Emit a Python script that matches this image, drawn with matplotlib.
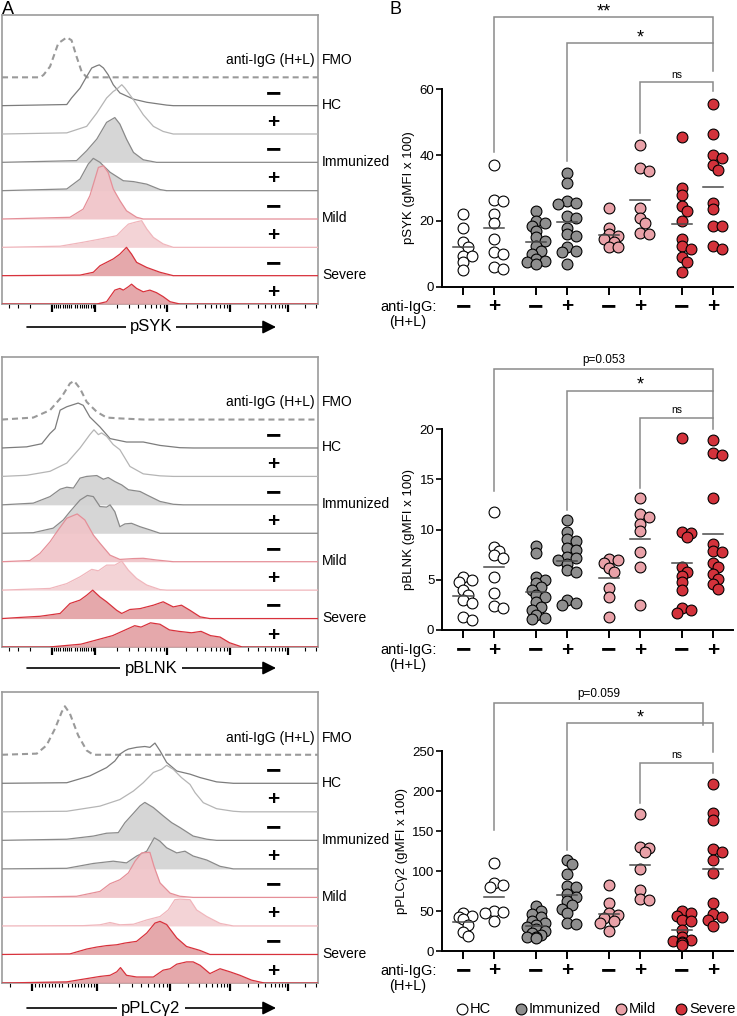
import numpy as np
import matplotlib
matplotlib.use("Agg")
import matplotlib.pyplot as plt

plt.rcParams["font.family"] = ["Liberation Sans", "DejaVu Sans"]

W, H, DPI = 737, 1016, 100
PT = 72 / DPI  # points per pixel

# ---------------------------------------------------------------- panel B
# gMFI x 100, order of columns: HC -, HC +, Imm -, Imm +, Mild -, Mild +, Sev -, Sev +
groups = ["HC", "Immunized", "Mild", "Severe"]
group_colors = ["white", "#8e8e8e", "#e9a1a8", "#d3323b"]

psyk_hc_neg = [22, 18, 13.5, 12, 9.5, 9.5, 7.5, 5]
psyk_hc_pos = [37, 26.5, 26, 22, 19.5, 14.5, 10.5, 10, 6, 5.5]
psyk_imm_neg = [23, 20, 19.5, 18.5, 17, 15, 14, 12.5, 11, 10, 8.5, 8, 7.5, 7]
psyk_imm_pos = [34.5, 31.5, 26, 25.5, 25, 21.5, 21, 18, 16, 15.5, 12, 11, 10.5, 7]
psyk_mild_neg = [24, 18, 16, 15.5, 14.5, 13.5, 12, 12]
psyk_mild_pos = [43, 36, 35, 24, 21, 19.5, 16.5, 16]
psyk_sev_neg = [45.5, 30, 28, 24.5, 23, 20, 14.5, 12.5, 11.5, 9, 7.5, 4.5]
psyk_sev_pos = [55.5, 46.5, 40, 39, 37, 35.5, 25.5, 23.5, 18.5, 18.5, 12.5, 11.5]

pblnk_hc_neg = [5.3, 5, 4.8, 4, 3.5, 3, 2.7, 1.3, 1]
pblnk_hc_pos = [11.7, 8.3, 7.9, 7.5, 7.2, 5.3, 3.7, 2.4, 2.2]
pblnk_imm_neg = [8.4, 7.7, 5.3, 5.0, 4.7, 4.3, 4.0, 3.5, 3.3, 2.8, 2.3, 2.0, 1.5, 1.2, 1.1]
pblnk_imm_pos = [10.9, 9.8, 9.1, 8.9, 8.2, 8.0, 7.3, 7.2, 7.0, 6.6, 6.0, 5.8, 3.0, 2.7, 2.5]
pblnk_mild_neg = [7.1, 7.0, 6.7, 6.2, 5.8, 4.2, 3.3, 1.3]
pblnk_mild_pos = [13.1, 11.5, 11.2, 10.5, 9.9, 7.8, 6.3, 2.5]
pblnk_sev_neg = [19.1, 9.8, 9.7, 9.3, 6.3, 5.8, 5.4, 4.8, 4.0, 2.2, 2.0, 1.7]
pblnk_sev_pos = [18.9, 17.6, 17.4, 13.1, 8.6, 7.9, 7.8, 6.7, 6.3, 5.6, 5.1, 4.6, 4.1]

pplc_hc_neg = [48, 44, 42, 40, 33, 24, 19]
pplc_hc_pos = [110, 85, 83, 80, 50, 49, 48, 38]
pplc_imm_neg = [56, 50, 46, 42, 38, 35, 32, 30, 28, 25, 22, 20, 18, 17, 16]
pplc_imm_pos = [114, 109, 96, 81, 80, 71, 68, 62, 57, 53, 47, 35, 34]
pplc_mild_neg = [82, 60, 47, 45, 41, 37, 35, 25]
pplc_mild_pos = [171, 130, 129, 124, 102, 76, 65, 64]
pplc_sev_neg = [50, 48, 44, 39, 37, 26, 17, 14, 13, 11, 10, 7.5]
pplc_sev_pos = [209, 172, 164, 128, 124, 114, 97, 60, 46, 42, 39, 31]

psyk_cols = [psyk_hc_neg, psyk_hc_pos, psyk_imm_neg, psyk_imm_pos,
             psyk_mild_neg, psyk_mild_pos, psyk_sev_neg, psyk_sev_pos]
pblnk_cols = [pblnk_hc_neg, pblnk_hc_pos, pblnk_imm_neg, pblnk_imm_pos,
              pblnk_mild_neg, pblnk_mild_pos, pblnk_sev_neg, pblnk_sev_pos]
pplc_cols = [pplc_hc_neg, pplc_hc_pos, pplc_imm_neg, pplc_imm_pos,
             pplc_mild_neg, pplc_mild_pos, pplc_sev_neg, pplc_sev_pos]

# comparisons: (column a, column b, label)
comparisons_syk = [(1, 7, "**"), (3, 7, "*"), (5, 7, "ns")]
comparisons_blnk = [(1, 7, "p=0.053"), (3, 7, "*"), (5, 7, "ns")]
comparisons_plc = [(1, 7, "p=0.059"), (3, 7, "*"), (5, 7, "ns")]

# ---------------------------------------------------------------- panel A
# offset histograms, (axis position 0-100, height in rows)
# rows: FMO, HC -, HC +, Imm -, Imm +, Mild -, Mild +, Sev -, Sev +
syk_fmo = [(12, 0), (13.1, 0.08), (15.2, 0.38), (17.8, 1.2), (20.5, 1.41), (22, 1.31),
           (23.6, 0.73), (25.2, 0.2), (26.8, 0)]
syk_hc_neg = [(20.5, 0.04), (22, 0.27), (24.7, 0.62), (26.8, 1.03), (28.4, 1.33), (30, 1.41),
              (30.8, 1.44), (32.1, 1.33), (33.6, 1.09), (35.2, 0.74), (37.3, 0.45), (41.6, 0.23),
              (45.8, 0.12), (52.1, 0.02), (54.2, 0)]
syk_hc_pos = [(20.5, 0.04), (26.8, 0.27), (30, 0.74), (33.1, 1.27), (35.2, 1.5), (36.3, 1.58),
              (37.9, 1.74), (38.9, 1.62), (41.6, 1.21), (44.7, 0.68), (47.9, 0.27), (51, 0.09),
              (54.2, 0)]
syk_imm_neg = [(23.6, 0.06), (26.8, 0.41), (30, 0.82), (33.1, 1.41), (35.7, 1.58), (37.3, 1.35),
               (39.4, 0.82), (41.6, 0.35), (44.7, 0.09), (48.9, 0)]
syk_imm_pos = [(20.5, 0.06), (24.7, 0.41), (27.3, 0.94), (28.9, 1.14), (31, 1.0), (34.2, 0.65),
               (38.4, 0.35), (41.6, 0.32), (45.8, 0.23), (50, 0.04), (52.1, 0)]
syk_mild_neg = [(21.5, 0.06), (25.7, 0.35), (27.8, 0.82), (29.4, 1.41), (30.5, 1.82), (32.1, 1.88),
                (33.6, 1.64), (35.2, 1.06), (37.3, 0.65), (39.4, 0.29), (42.6, 0.06), (44.7, 0)]
syk_mild_pos = [(18.4, 0.04), (25.7, 0.18), (31, 0.29), (36.3, 0.41), (38.4, 0.65), (40, 0.82),
                (42.6, 0.9), (44.2, 0.94), (45.8, 0.65), (47.9, 0.35), (51, 0.12), (54.2, 0)]
syk_sev_neg = [(24.7, 0.02), (28.9, 0.12), (31, 0.35), (33.1, 0.47), (35.2, 0.59), (37.3, 0.76),
               (39.4, 1.0), (41, 0.76), (42.6, 0.47), (45.8, 0.29), (50, 0.12), (54.2, 0)]
syk_sev_pos = [(30, 0), (33.1, 0.08), (35.7, 0.49), (37.3, 0.55), (38.4, 0.49), (40, 0.61),
               (41, 0.7), (42.6, 0.55), (44.7, 0.43), (46.8, 0.49), (48.9, 0.4), (51, 0.26),
               (53.2, 0.08), (56.3, 0)]

blnk_fmo = [(9.9, 0.07), (15.2, 0.33), (18.9, 0.8), (21.5, 1.27), (22.8, 1.36), (24.7, 1.09),
            (26.8, 0.62), (30, 0.27), (33.1, 0.07), (37.3, 0.04), (45, 0)]
blnk_hc_neg = [(7.8, 0.04), (12.6, 0.15), (15.2, 0.51), (16.8, 0.68), (18.4, 1.33), (20.5, 1.45),
               (24.1, 1.58), (25.7, 1.5), (27.8, 1.09), (31, 0.74), (34.2, 0.33), (39.4, 0.21),
               (44.7, 0.21), (50, 0.09), (56.3, 0.01), (60.5, 0)]
blnk_hc_pos = [(7.8, 0.04), (15.2, 0.18), (20.5, 0.47), (24.7, 1.0), (27.8, 1.47), (29.1, 1.64),
               (30.5, 1.47), (31.5, 1.53), (33.1, 1.41), (35.2, 1.12), (37.3, 0.94), (40.5, 0.35),
               (44.7, 0.09), (50, 0.02), (54.2, 0)]
blnk_imm_neg = [(9.9, 0.06), (15.2, 0.29), (18.4, 0.55), (20.5, 0.62), (22.6, 0.59), (24.7, 0.94),
                (26.8, 1.0), (30, 1.03), (32.1, 0.9), (33.6, 0.96), (35.7, 0.82), (37.9, 0.7),
                (40, 0.53), (43.7, 0.47), (45.8, 0.35), (50, 0.12), (54.2, 0.02), (57.4, 0)]
blnk_imm_pos = [(9.9, 0.02), (16.2, 0.18), (19.4, 0.47), (21.5, 0.76), (24.7, 1.17), (27, 1.33),
                (28.9, 1.29), (31, 0.94), (33.1, 0.92), (34.2, 1.0), (35.7, 0.76), (37.3, 0.23),
                (38.9, 0.33), (41, 0.35), (43.7, 0.23), (46.8, 0.12), (50, 0)]
blnk_mild_neg = [(8.8, 0.04), (12, 0.29), (15.2, 0.7), (17.8, 1.12), (20.5, 1.53), (23.8, 1.68),
                 (26.2, 1.47), (28.9, 0.94), (31, 0.65), (34.2, 0.23), (37.3, 0.08), (41.6, 0.11),
                 (44.7, 0.12), (48.9, 0.06), (54.2, 0)]
blnk_mild_pos = [(15.2, 0.06), (20.5, 0.23), (24.7, 0.47), (28.4, 0.73), (30.5, 0.68), (33.1, 0.88),
                 (35.7, 0.88), (37.9, 1.02), (40, 0.7), (42.6, 0.41), (45.8, 0.18), (50, 0.02),
                 (52.1, 0)]
blnk_sev_neg = [(5.7, 0.04), (12, 0.08), (18.4, 0.18), (21.5, 0.53), (24.7, 0.65), (26.8, 0.82),
                (28.7, 1.0), (31, 0.76), (33.1, 0.59), (36.3, 0.29), (37.9, 0.18), (40.5, 0.32),
                (43.7, 0.35), (47.9, 0.47), (51, 0.59), (54.2, 0.41), (56.8, 0.47), (59.5, 0.29),
                (62.7, 0.06), (65.8, 0)]
blnk_sev_pos = [(15, 0), (25, 0.1), (30, 0.25), (35, 0.4), (38, 0.55), (42, 0.75), (44, 0.7),
                (47, 0.85), (50, 0.8), (53, 0.6), (56, 0.55), (60, 0.5), (63, 0.55), (66, 0.4),
                (69, 0.35), (72, 0.15), (76, 0)]

plc_fmo = [(11, 0.04), (14.1, 0.33), (16.8, 0.92), (18.9, 1.5), (19.9, 1.7), (21.5, 1.44),
           (24.1, 0.68), (26.8, 0.15), (28.9, 0)]
plc_hc_neg = [(20.5, 0.02), (27.8, 0.26), (33.1, 0.55), (35.7, 0.78), (37.3, 1.02), (38.9, 1.14),
              (40, 1.2), (42.6, 1.26), (45.2, 1.29), (46.8, 1.26), (48.4, 1.41), (50, 1.14),
              (52.1, 0.73), (55.3, 0.43), (59.5, 0.32), (62.7, 0.2), (67.9, 0.05), (73.2, 0)]
plc_hc_pos = [(20.5, 0.02), (31, 0.2), (37.3, 0.43), (41.6, 0.73), (44.7, 1.02), (47.9, 1.38),
              (50.5, 1.49), (52.1, 1.63), (54.2, 1.49), (56.8, 1.2), (59.5, 0.96), (61.1, 0.67),
              (63.7, 0.32), (67.9, 0.11), (73.2, 0.02), (76, 0)]
plc_imm_neg = [(20.5, 0.04), (28.9, 0.15), (33.1, 0.25), (36.8, 0.27), (38.9, 0.62), (41.6, 0.95),
               (43.7, 1.21), (45.2, 1.33), (47.9, 1.15), (51, 0.86), (53.7, 0.62), (56.3, 0.45),
               (60.5, 0.15), (64.8, 0.04), (67.9, 0)]
plc_imm_pos = [(20.5, 0.02), (28.9, 0.19), (35.2, 0.27), (39.4, 0.21), (42.6, 0.45), (45.8, 0.62),
               (48.2, 1.09), (50, 0.97), (52.1, 0.74), (55.3, 0.56), (57.9, 0.62), (60.5, 0.45),
               (64.8, 0.31), (69, 0.09), (73.2, 0)]
plc_mild_neg = [(23.6, 0.04), (31, 0.21), (34.2, 0.48), (37.3, 0.62), (40, 0.86), (42.1, 1.27),
                (44.2, 1.56), (46.8, 1.58), (48.1, 1.09), (50, 0.51), (53.2, 0.15), (56.3, 0.04),
                (60.5, 0)]
plc_mild_pos = [(25.7, 0.01), (31, 0.04), (34.2, 0.12), (37.3, 0.04), (41.6, 0.06), (45.8, 0.21),
                (50, 0.33), (52.6, 0.56), (54.7, 0.92), (56.3, 0.94), (59.5, 0.92), (61.6, 0.56),
                (64.8, 0.33), (69, 0.09), (73.2, 0)]
plc_sev_neg = [(21.5, 0.02), (26.8, 0.19), (30, 0.26), (33.1, 0.31), (36.3, 0.34), (38.9, 0.4),
               (42.6, 0.46), (45.8, 0.75), (48.4, 1.1), (50, 1.16), (52.1, 1.05), (55.3, 0.58),
               (58.4, 0.28), (62.7, 0.14), (65.8, 0)]
plc_sev_pos = [(20.5, 0.04), (31, 0.23), (34.2, 0.27), (36.3, 0.39), (37.5, 0.54), (39.4, 0.27),
               (42.6, 0.21), (47.9, 0.21), (51, 0.45), (53.2, 0.5), (55.3, 0.66), (58.4, 0.74),
               (60.5, 0.74), (62.7, 0.62), (65.8, 0.33), (69, 0.5), (72.2, 0.39), (75.3, 0.27),
               (79, 0.1), (83, 0)]

syk_rows = [syk_fmo, syk_hc_neg, syk_hc_pos, syk_imm_neg, syk_imm_pos,
            syk_mild_neg, syk_mild_pos, syk_sev_neg, syk_sev_pos]
blnk_rows = [blnk_fmo, blnk_hc_neg, blnk_hc_pos, blnk_imm_neg, blnk_imm_pos,
             blnk_mild_neg, blnk_mild_pos, blnk_sev_neg, blnk_sev_pos]
plc_rows = [plc_fmo, plc_hc_neg, plc_hc_pos, plc_imm_neg, plc_imm_pos,
            plc_mild_neg, plc_mild_pos, plc_sev_neg, plc_sev_pos]

# (line colour, fill colour)
ROW_STYLE = [
    ("#9a9a9a", None),
    ("#7c7c7c", None),
    ("#b5b5b5", None),
    ("#8a8a8a", "#d3d3d3"),
    ("#8a8a8a", "#d3d3d3"),
    ("#e58f98", "#f0c4c8"),
    ("#f0b6bc", "#f3d0d3"),
    ("#d8323c", "#e3a1a4"),
    ("#d8323c", "#e3a1a4"),
]
ROW_SIGNS = ["\u2212", "+"] * 4


def sign_size(s):
    return 19 if s == "\u2212" else 15


def px_rect(left, top, right, bottom):
    return [left / W, 1 - bottom / H, (right - left) / W, (bottom - top) / H]


fig = plt.figure(figsize=(W / DPI, H / DPI), dpi=DPI)
ov = fig.add_axes([0, 0, 1, 1], zorder=10)
ov.set_xlim(0, W)
ov.set_ylim(H, 0)
ov.axis("off")


def fc_ticks(majors, zero):
    n1, p1 = majors[0], majors[1]
    minors = [zero + (p1 - zero) * k / 10 for k in range(1, 10)]
    minors += [zero - (zero - n1) * k / 10 for k in range(1, 10)]
    step = majors[2] - majors[1]
    minors += [n1 - step * np.log10(k) for k in range(2, 10)]
    for a, b in zip(majors[1:-1], majors[2:]):
        minors += [a + (b - a) * np.log10(k) for k in range(2, 10)]
    last = majors[-1]
    minors += [last + (majors[-1] - majors[-2]) * np.log10(k) for k in range(2, 10)]
    return [m for m in minors if 0 <= m <= 100]


def hist_panel(top, bottom, rows, majors, zero, label, arrow_y):
    ax = fig.add_axes(px_rect(2, top, 318, bottom))
    ax.set_xlim(0, 100)
    ax.set_ylim(0, 10.2)
    for i, (pts, (lc, fc)) in enumerate(zip(rows, ROW_STYLE)):
        base = 8 - i
        u = [0] + [p[0] for p in pts] + [100]
        y = base + np.array([0] + [p[1] for p in pts] + [0])
        if fc:
            ax.fill_between(u, base, y, color=fc, lw=0, alpha=0.92, zorder=2 + 2 * i)
        if i == 0:
            ax.plot(u, y, color=lc, lw=1.5, dashes=(2.9, 1.9), zorder=3)
        else:
            ax.plot(u, y, color=lc, lw=0.9, zorder=3 + 2 * i)
    for s in ax.spines.values():
        s.set_color("#9b9b9b")
        s.set_linewidth(1.2)
    ax.set_yticks([])
    ax.set_xticks(majors)
    ax.set_xticks(fc_ticks(majors, zero), minor=True)
    ax.tick_params(axis="x", which="major", length=6, width=1.6, color="black",
                   labelbottom=False)
    ax.tick_params(axis="x", which="minor", length=3, width=0.8, color="black")
    # labels on the right
    ax.text(99, 8.6, "anti-IgG (H+L)", ha="right", va="center", fontsize=10,
            clip_on=False, zorder=30)
    ax.text(101.3, 8.6, "FMO", ha="left", va="center", fontsize=10, clip_on=False)
    for i, sgn in enumerate(ROW_SIGNS):
        base = 7 - i
        ax.text(85.8, base + 0.42, sgn, ha="center", va="center", fontsize=sign_size(sgn),
                fontweight="bold", clip_on=False, zorder=30)
    for g, name in enumerate(groups):
        ax.text(101.3, 7 - 2 * g + 0.02, name, ha="left", va="center", fontsize=10,
                clip_on=False)
    # axis arrow
    ov.annotate("", xy=(276, arrow_y), xytext=(27, arrow_y),
                arrowprops=dict(arrowstyle="-|>", color="black", lw=1.2,
                                mutation_scale=20, shrinkA=0, shrinkB=0))
    ov.text(151, arrow_y, label, ha="center", va="center", fontsize=12,
            bbox=dict(fc="white", ec="none", pad=3))
    return ax


hist_panel(15, 304, syk_rows, [15.8, 29.4, 52.2, 72.2, 90.5], 22.5, "pSYK", 327)
hist_panel(357, 647, blnk_rows, [15.8, 29.4, 52.2, 72.2, 90.5], 22.5, "pBLNK", 668)
hist_panel(692, 983, plc_rows, [9.5, 30.1, 53.2, 72.2, 90.5], 20.0, "pPLC\u03b32", 1008)

# ---------------------------------------------------------------- scatter panels
XPOS = [g * 2.355 + s for g in range(4) for s in range(2)]
MS = 7.8  # marker size, points
D_PX = MS / PT


def swarm(ax, xc, vals):
    pts = ax.transData.transform([(xc, v) for v in vals])
    x_px_per_unit = ax.transData.transform((1, 0))[0] - ax.transData.transform((0, 0))[0]
    placed = []
    res = np.zeros(len(vals))
    for i in np.argsort(-np.asarray(vals), kind="stable"):
        y = pts[i, 1]
        chosen = None
        for k in [0, 1, -1, 2, -2]:
            dx = k * D_PX * 0.42
            if all((dx - px) ** 2 + (y - py) ** 2 >= (D_PX * 0.55) ** 2 for px, py in placed):
                chosen = dx
                break
        if chosen is None:
            chosen = 0.0
        placed.append((chosen, y))
        res[i] = chosen
    return xc + res / x_px_per_unit


def scatter_panel(top, bottom, cols, ymax, ystep, ylabel, comps, levels):
    ax = fig.add_axes(px_rect(442, top, 733, bottom))
    ax.set_xlim(-0.68, 8.71)
    ax.set_ylim(0, ymax)
    for j, vals in enumerate(cols):
        color = group_colors[j // 2]
        xs = swarm(ax, XPOS[j], vals)
        ax.plot(xs, vals, "o", ms=MS, mfc=color, mec="black", mew=0.8, zorder=3,
                clip_on=False)
        m = np.mean(vals)
        ax.plot([XPOS[j] - 0.33, XPOS[j] + 0.33], [m, m], color="#4a4a4a", lw=1.1,
                zorder=4)
    for side in ("top", "right"):
        ax.spines[side].set_visible(False)
    for side in ("left", "bottom"):
        ax.spines[side].set_linewidth(1.4)
    ax.set_yticks(np.arange(0, ymax + 0.1, ystep))
    ax.set_xticks(XPOS)
    ax.tick_params(axis="x", length=6, width=1.4, labelbottom=False)
    ax.tick_params(axis="y", length=4, width=1.2, labelsize=9.5, pad=1.5)
    ax.set_ylabel(ylabel, fontsize=9.5, labelpad=3)
    for j in range(8):
        ax.annotate(ROW_SIGNS[j], xy=(XPOS[j], 0), xycoords=("data", "axes fraction"),
                    xytext=(0, -20 * PT), textcoords="offset points", ha="center",
                    va="center", fontsize=sign_size(ROW_SIGNS[j]), fontweight="bold",
                    annotation_clip=False)
    ax.annotate("anti-IgG:", xy=(-0.68, 0), xycoords=("data", "axes fraction"),
                xytext=(-5 * PT, -20 * PT), textcoords="offset points", ha="right",
                va="center", fontsize=10.5, annotation_clip=False)
    ax.annotate("(H+L)", xy=(-0.68, 0), xycoords=("data", "axes fraction"),
                xytext=(-34 * PT, -35 * PT), textcoords="offset points", ha="center",
                va="center", fontsize=10.5, annotation_clip=False)
    # significance brackets
    for (a, b, lab), (lev, lbot, rbot, xend) in zip(comps, levels):
        x1, x2 = XPOS[a], XPOS[b] + xend
        ax.plot([x1, x1, x2, x2], [lbot, lev, lev, rbot], color="#8a8a8a", lw=1.1,
                clip_on=False, solid_joinstyle="miter")
        fs = 13 if "*" in lab else (7.5 if lab == "ns" else 8.5)
        ax.annotate(lab, xy=((x1 + x2) / 2, lev),
                    xytext=(0, -3 * PT if "*" in lab else 2.5 * PT),
                    textcoords="offset points", ha="center", va="bottom", fontsize=fs,
                    annotation_clip=False)
    return ax


scatter_panel(89, 287, psyk_cols, 60, 20, "pSYK (gMFI x 100)", comparisons_syk,
              [(81.8, 40.9, 73.9, 0), (73.9, 38.2, 65.5, 0), (62.1, 46.7, 59.4, 0)])
scatter_panel(429, 630, pblnk_cols, 20, 5, "pBLNK (gMFI x 100)", comparisons_blnk,
              [(26.0, 13.8, 23.8, 0), (23.8, 11.9, 21.1, 0), (21.1, 14.1, 20.0, 0)])
scatter_panel(751, 951, pplc_cols, 250, 50, "pPLC\u03b32 (gMFI x 100)", comparisons_plc,
              [(310, 151, 282.5, -0.32), (285, 126, 249, 0), (235, 185, 222.5, 0)])

# legend
for x0, name, color in zip([462, 521, 621, 681], groups, group_colors):
    ov.plot([x0], [1009], "o", ms=MS, mfc=color, mec="black", mew=0.8)
    ov.text(x0 + 8, 1009, name, ha="left", va="center", fontsize=10.5)

ov.text(2, 9, "A", ha="left", va="center", fontsize=13)
ov.text(390, 9, "B", ha="left", va="center", fontsize=13)

fig.savefig("out.png", dpi=DPI)
